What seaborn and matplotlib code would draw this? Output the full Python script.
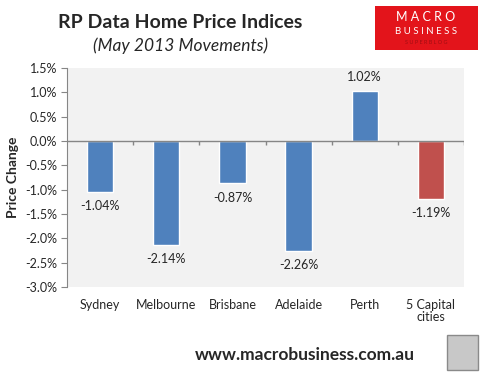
import matplotlib.pyplot as plt
import matplotlib.patches as mpatches
import matplotlib.ticker as mticker
import seaborn as sns

cities = ['Sydney', 'Melbourne', 'Brisbane', 'Adelaide', 'Perth', '5 Capital\ncities']
changes = [-1.04, -2.14, -0.87, -2.26, 1.02, -1.19]
bar_colors = ['#4f81bd', '#4f81bd', '#4f81bd', '#4f81bd', '#4f81bd', '#c0504d']
yticks = [1.5, 1.0, 0.5, 0.0, -0.5, -1.0, -1.5, -2.0, -2.5, -3.0]

sns.set_style('white')
plt.rcParams['font.family'] = ['Lato', 'DejaVu Sans']

fig = plt.figure(figsize=(4.91, 3.73), dpi=100)
ax = fig.add_axes([0.1365, 0.2306, 0.8085, 0.5871])
ax.set_facecolor('#f2f2f2')

sns.barplot(x=cities, y=changes, hue=cities, palette=bar_colors, legend=False,
            width=0.4, saturation=1, ax=ax)

ax.set_ylim(-3.0, 1.5)
ax.set_xlim(-0.5, len(cities) - 0.5)
ax.set_yticks(yticks)
ax.yaxis.set_major_formatter(mticker.FuncFormatter(lambda v, p: '%.1f%%' % v))
ax.tick_params(axis='y', direction='out', length=4, color='#868686', labelsize=9, pad=3, left=True)
ax.tick_params(axis='x', length=0, labelsize=9, pad=9)
for lbl in ax.get_xticklabels():
    lbl.set_linespacing(1.0)

for s in ['top', 'right', 'bottom']:
    ax.spines[s].set_visible(False)
ax.spines['left'].set_color('#868686')

# zero axis with category separators
ax.axhline(0, color='#868686', lw=1)
ax.vlines([i + 0.5 for i in range(len(cities))], -0.08, 0, color='#868686', lw=1)

for i, v in enumerate(changes):
    if v < 0:
        ax.annotate('%.2f%%' % v, (i, v), xytext=(0, -6), textcoords='offset points',
                    ha='center', va='top', fontsize=9)
    else:
        ax.annotate('%.2f%%' % v, (i, v), xytext=(0, 6), textcoords='offset points',
                    ha='center', va='bottom', fontsize=9)

ax.set_xlabel('')
ax.set_ylabel('Price Change', fontsize=10, fontweight='bold')
ax.yaxis.set_label_coords(-0.12, 0.5)

fig.text(0.367, 0.94, 'RP Data Home Price Indices', ha='center', va='center',
         fontsize=14, fontweight='bold')
fig.text(0.367, 0.878, '(May 2013 Movements)', ha='center', va='center',
         fontsize=12.5, style='italic')

# logo block
fig.patches.append(mpatches.Rectangle((375 / 491, 1 - 50 / 373), 103 / 491, 44 / 373,
                                      transform=fig.transFigure, facecolor='#e3141b',
                                      edgecolor='none'))
fig.text(426 / 491, 1 - 17 / 373, 'M A C R O', ha='center', va='center', color='white', fontsize=9)
fig.text(426 / 491, 1 - 31 / 373, 'B U S I N E S S', ha='center', va='center', color='white', fontsize=7)
fig.text(426 / 491, 1 - 42 / 373, 'S U P E R B L O G', ha='center', va='center', color='#a00e12', fontsize=4)

fig.text(305 / 491, 1 - 355 / 373, 'www.macrobusiness.com.au', ha='center', va='center',
         fontsize=12.5, fontweight='bold')
fig.patches.append(mpatches.Rectangle((447 / 491, 1 - 370 / 373), 31 / 491, 35 / 373,
                                      transform=fig.transFigure, facecolor='#c8c8c8',
                                      edgecolor='#8a8a8a', lw=1))

fig.savefig('out.png', dpi=100)
